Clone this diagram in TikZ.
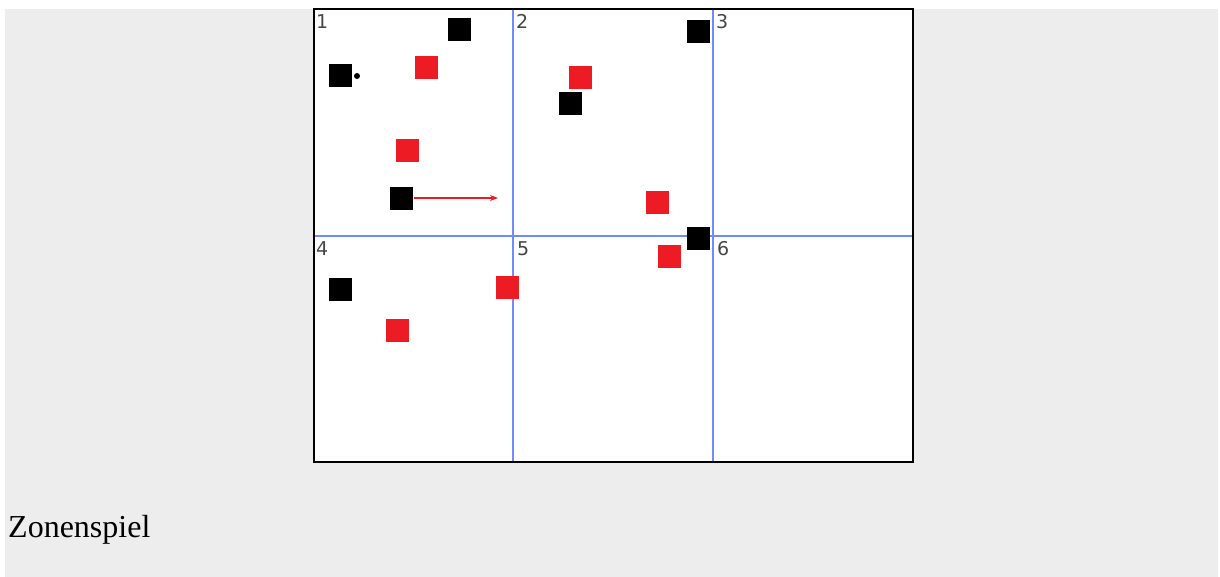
\documentclass[tikz,border=0pt]{standalone}
\usepackage{fontspec}
\setmainfont{Liberation Serif}
\newfontfamily\zonefont{DejaVu Sans}
\usetikzlibrary{arrows.meta}
\definecolor{pagegray}{RGB}{237,237,237}
\definecolor{linblue}{RGB}{112,140,250}
\definecolor{teamred}{RGB}{237,28,36}
\definecolor{zonegray}{RGB}{70,70,70}
\tikzset{
  blk/.style={fill=black,minimum size=23pt,inner sep=0pt},
  rd/.style={fill=teamred,minimum size=23pt,inner sep=0pt},
  zone/.style={anchor=north west,inner sep=0pt,text=zonegray,font=\zonefont\fontsize{19}{19}\selectfont},
  zoneline/.style={linblue,line width=1.6pt},
  pass/.style={teamred,line width=1.2pt,-{Stealth[length=8pt,width=6pt]}}
}
\begin{document}
\begin{tikzpicture}[x=1pt,y=-1pt]
\useasboundingbox (0,0) rectangle (1220,577);
\fill[pagegray] (5,9) rectangle (1218,577);
% field
\fill[white] (314,9) rectangle (913,462);
\draw[zoneline] (513,9) -- (513,462);
\draw[zoneline] (713,9) -- (713,462);
\draw[zoneline] (314,236) -- (913,236);
\draw[line width=1.8pt] (314,9) rectangle (913,462);
% zone numbers
\node[zone] (z1) at (316,14) {1};
\node[zone] (z2) at (516,14) {2};
\node[zone] (z3) at (716,14) {3};
\node[zone] (z4) at (316,241) {4};
\node[zone] (z5) at (517,241) {5};
\node[zone] (z6) at (717,241) {6};
% players
\node[blk] (b1) at (459,30) {};
\node[blk] (b2) at (340,76) {};
\node[blk] (b3) at (401,199) {};
\node[blk] (b4) at (698,32) {};
\node[blk] (b5) at (570,104) {};
\node[blk] (b6) at (698,239) {};
\node[blk] (b7) at (340,289) {};
\node[rd] (r1) at (426,68) {};
\node[rd] (r2) at (407,151) {};
\node[rd] (r3) at (580,78) {};
\node[rd] (r4) at (657,203) {};
\node[rd] (r5) at (669,257) {};
\node[rd] (r6) at (507,287) {};
\node[rd] (r7) at (397,330) {};
% ball and run
\node[fill,circle,inner sep=0pt,minimum size=6pt] (ball) at (357,76) {};
\coordinate (runend) at (498,198);
\draw[pass] (b3.east |- 0,198) ++(1,0) -- (runend);
% caption
\node[anchor=base west,inner sep=0pt,font=\fontsize{32}{38}\selectfont] (cap) at (8,537) {Zonenspiel};
\end{tikzpicture}
\end{document}
